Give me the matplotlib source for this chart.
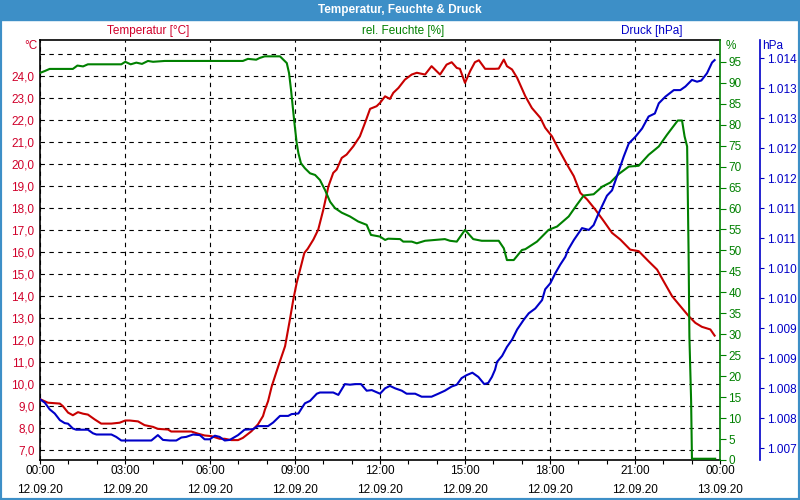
import matplotlib
matplotlib.use("Agg")
import matplotlib.pyplot as plt
from matplotlib.patches import Rectangle
from matplotlib.ticker import MultipleLocator, FixedLocator, FuncFormatter

plt.rcParams["font.family"] = ["Liberation Sans", "DejaVu Sans"]
plt.rcParams["font.size"] = 8

# hours since 00:00 on 12.09.20
temp_h = [0.02, 0.28, 0.70, 0.81, 0.99, 1.16, 1.34, 1.52, 1.69, 1.93, 2.16, 2.52, 2.81,
          3.01, 3.17, 3.46, 3.69, 3.99, 4.16, 4.52, 4.63, 5.34, 5.58, 5.81, 6.05, 6.34,
          6.52, 6.75, 6.99, 7.16, 7.46, 7.69, 7.87, 7.94, 8.05, 8.18, 8.41, 8.65, 8.82,
          8.94, 9.06, 9.18, 9.33, 9.45, 9.65, 9.82, 10.00, 10.18, 10.35, 10.47, 10.65,
          10.82, 11.06, 11.29, 11.47, 11.65, 11.88, 12.00, 12.18, 12.35, 12.47, 12.65,
          12.88, 13.12, 13.30, 13.59, 13.82, 14.12, 14.35, 14.53, 14.71, 14.82, 15.00,
          15.18, 15.35, 15.49, 15.71, 16.06, 16.19, 16.37, 16.48, 16.66, 16.84, 17.13,
          17.36, 17.66, 17.83, 18.07, 18.31, 18.60, 18.84, 19.07, 19.31, 19.60, 19.90,
          20.19, 20.48, 20.83, 21.13, 21.48, 21.78, 22.01, 22.31, 22.60, 22.90, 23.13,
          23.36, 23.66, 23.81]
temp_c = [9.30, 9.15, 9.11, 8.99, 8.70, 8.58, 8.72, 8.65, 8.61, 8.39, 8.20, 8.20, 8.24,
          8.34, 8.34, 8.30, 8.13, 8.05, 7.96, 7.93, 7.84, 7.84, 7.74, 7.66, 7.63, 7.51,
          7.51, 7.45, 7.45, 7.55, 7.85, 8.16, 8.54, 8.84, 9.22, 9.90, 10.81, 11.72, 12.93,
          13.84, 14.60, 15.20, 15.96, 16.15, 16.57, 17.02, 17.93, 18.99, 19.60, 19.75, 20.28,
          20.43, 20.81, 21.26, 21.87, 22.51, 22.63, 22.78, 23.08, 22.96, 23.24, 23.46,
          23.84, 24.07, 24.15, 24.07, 24.45, 24.07, 24.52, 24.63, 24.37, 24.33, 23.69,
          24.22, 24.63, 24.72, 24.33, 24.33, 24.34, 24.75, 24.45, 24.30, 23.92, 23.08,
          22.55, 22.10, 21.65, 21.26, 20.66, 19.98, 19.45, 18.69, 18.39, 17.93, 17.40,
          16.87, 16.57, 16.11, 16.04, 15.58, 15.20, 14.67, 13.99, 13.54, 13.08, 12.78,
          12.60, 12.48, 12.20]

hum_h = [0.02, 0.17, 0.34, 1.16, 1.32, 1.52, 1.69, 2.87, 3.01, 3.20, 3.40, 3.60, 3.81,
         3.99, 4.40, 6.05, 7.16, 7.34, 7.63, 7.75, 7.93, 8.47, 8.59, 8.71, 8.79, 8.86,
         8.92, 8.98, 9.06, 9.12, 9.21, 9.35, 9.53, 9.71, 9.88, 10.06, 10.24, 10.41,
         10.65, 10.94, 11.23, 11.53, 11.68, 12.00, 12.18, 12.29, 12.71, 12.82, 13.12,
         13.30, 13.59, 13.94, 14.29, 14.47, 14.71, 15.00, 15.29, 15.59, 16.06, 16.19,
         16.37, 16.48, 16.72, 17.01, 17.13, 17.54, 17.95, 18.25, 18.66, 18.95, 19.19,
         19.54, 19.84, 20.13, 20.42, 20.78, 21.13, 21.48, 21.84, 22.13, 22.51, 22.66,
         22.75, 22.84, 22.89, 22.92, 22.98, 23.01, 23.83]
hum_pct = [92.4, 92.8, 93.3, 93.3, 94.1, 93.9, 94.4, 94.4, 95.0, 94.4, 94.8, 94.5, 95.2,
           95.0, 95.2, 95.2, 95.2, 95.7, 95.5, 95.9, 96.3, 96.3, 95.5, 94.7, 92.3, 88.3,
           84.3, 80.4, 75.6, 73.2, 70.8, 69.6, 68.4, 68.0, 66.8, 64.4, 61.6, 60.1,
           59.0, 58.1, 56.9, 56.1, 53.7, 53.3, 52.5, 52.8, 52.7, 52.1, 52.1,
           51.7, 52.3, 52.5, 52.7, 52.3, 52.1, 54.9, 52.7, 52.3, 52.3, 52.3,
           50.5, 47.7, 47.7, 50.1, 50.3, 52.1, 54.9, 55.7, 58.1, 60.9, 63.1,
           63.4, 65.2, 66.2, 68.2, 70.0, 70.2, 72.8, 74.8, 77.6, 81.0, 81.0,
           77.2, 74.8, 50.1, 29.4, 14.3, 0.3, 0.3]

pres_h = [0.02, 0.17, 0.34, 0.52, 0.70, 0.87, 0.99, 1.16, 1.28, 1.69, 1.87, 1.99, 2.52,
          2.69, 2.87, 3.93, 4.16, 4.34, 4.58, 4.81, 4.99, 5.16, 5.40, 5.64, 5.81, 5.99,
          6.17, 6.34, 6.52, 6.70, 6.99, 7.22, 7.52, 7.69, 8.05, 8.23, 8.47, 8.76, 8.88,
          9.12, 9.24, 9.35, 9.53, 9.77, 9.88, 10.35, 10.53, 10.76, 10.94, 11.12, 11.33,
          11.53, 11.71, 12.00, 12.18, 12.35, 12.53, 12.77, 12.94, 13.24, 13.47, 13.82,
          14.06, 14.29, 14.53, 14.71, 14.88, 15.06, 15.26, 15.47, 15.68, 15.82, 15.95,
          16.06, 16.13, 16.31, 16.48, 16.66, 16.84, 17.07, 17.25, 17.48, 17.72, 17.83,
          18.01, 18.19, 18.36, 18.54, 18.64, 18.84, 19.13, 19.37, 19.54, 19.72, 20.01,
          20.19, 20.36, 20.60, 20.78, 21.01, 21.25, 21.48, 21.70, 21.84, 22.07, 22.37,
          22.60, 22.78, 23.01, 23.19, 23.34, 23.54, 23.72, 23.81]
pres_hpa = [1008.31, 1008.26, 1008.15, 1008.08, 1007.97, 1007.92, 1007.91, 1007.83,
            1007.81, 1007.81, 1007.75, 1007.73, 1007.73, 1007.69, 1007.63, 1007.63,
            1007.72, 1007.64, 1007.63, 1007.63, 1007.68, 1007.69, 1007.73, 1007.72,
            1007.65, 1007.65, 1007.71, 1007.69, 1007.63, 1007.64, 1007.72, 1007.81,
            1007.82, 1007.87, 1007.87, 1007.93, 1008.04, 1008.04, 1008.07, 1008.08,
            1008.17, 1008.25, 1008.29, 1008.41, 1008.43, 1008.43, 1008.39, 1008.57,
            1008.56, 1008.57, 1008.57, 1008.46, 1008.47, 1008.41, 1008.50, 1008.54,
            1008.50, 1008.46, 1008.41, 1008.41, 1008.36, 1008.36, 1008.41, 1008.46,
            1008.53, 1008.56, 1008.67, 1008.72, 1008.76, 1008.69, 1008.57, 1008.59,
            1008.69, 1008.81, 1008.94, 1009.04, 1009.19, 1009.31, 1009.48, 1009.64,
            1009.75, 1009.83, 1009.97, 1010.15, 1010.25, 1010.42, 1010.56, 1010.69,
            1010.81, 1010.97, 1011.17, 1011.14, 1011.22, 1011.42, 1011.71, 1011.80,
            1012.03, 1012.36, 1012.58, 1012.69, 1012.83, 1013.03, 1013.08, 1013.25,
            1013.36, 1013.47, 1013.47, 1013.53, 1013.64, 1013.61, 1013.63, 1013.75,
            1013.93, 1013.97]

x_ticks = [0, 3, 6, 9, 12, 15, 18, 21, 24]
x_labels = ["00:00\n12.09.20", "03:00\n12.09.20", "06:00\n12.09.20", "09:00\n12.09.20",
            "12:00\n12.09.20", "15:00\n12.09.20", "18:00\n12.09.20", "21:00\n12.09.20",
            "00:00\n13.09.20"]

RED = "#c80000"
RED_TXT = "#d0002a"
GREEN = "#008000"
BLUE = "#0000c8"
BAR = "#3d8fc7"

fig = plt.figure(figsize=(8, 5), dpi=100)
fig.add_artist(Rectangle((0, 0.96), 1, 0.04, transform=fig.transFigure, color=BAR, zorder=0))
fig.add_artist(Rectangle((0, 0), 1, 1, transform=fig.transFigure, fill=False,
                         edgecolor=BAR, linewidth=3, zorder=0))
fig.text(0.5, 0.979, "Temperatur, Feuchte & Druck", color="white", weight="bold",
         ha="center", va="center", fontsize=8.5)

ax = fig.add_axes([0.05, 0.08, 0.85, 0.84])
ax_h = ax.twinx()
ax_p = ax.twinx()

ax.set_xlim(0, 24)
ax.set_ylim(6.545, 25.64)
ax.set_yticks(range(7, 26))
ax.set_yticklabels([f"{v:.1f}".replace(".", ",") for v in range(7, 25)] + [""])
ax.tick_params(axis="y", length=0, pad=4, colors=RED_TXT, labelsize=8.5)
ax.set_xticks(x_ticks)
ax.set_xticklabels(x_labels, linespacing=1.8)
ax.xaxis.set_minor_locator(MultipleLocator(1))
ax.tick_params(axis="x", which="both", length=3, width=0.8, pad=0.5, labelsize=8.5)
ax.grid(True, color="black", linestyle=(0, (4, 4)), linewidth=0.8)
ax.spines["right"].set_visible(False)
for s in ["left", "top", "bottom"]:
    ax.spines[s].set_linewidth(1.2)

ax_h.set_ylim(0, 100.2)
ax_h.set_yticks(range(0, 100, 5))
ax_h.tick_params(axis="y", colors=GREEN, length=4, width=0.8, pad=2, labelsize=8.5)
ax_h.spines["right"].set_color(GREEN)
ax_h.spines["right"].set_linewidth(1.2)
for s in ["left", "top", "bottom"]:
    ax_h.spines[s].set_visible(False)

ax_p.set_ylim(1007.305, 1014.305)
ax_p.yaxis.set_major_locator(FixedLocator([1007.5 + 0.5 * i for i in range(14)]))
ax_p.yaxis.set_major_formatter(FuncFormatter(lambda v, pos: f"{int(v) // 1000}.{int(v) % 1000:03d}"))
ax_p.spines["right"].set_position(("axes", 720 / 680))
ax_p.spines["right"].set_color(BLUE)
ax_p.spines["right"].set_linewidth(1.2)
ax_p.tick_params(axis="y", colors=BLUE, length=3, width=0.8, pad=2, labelsize=8.5)
for s in ["left", "top", "bottom"]:
    ax_p.spines[s].set_visible(False)

ax_h.plot(hum_h, hum_pct, color=GREEN, linewidth=1.5, clip_on=False)
ax.plot(temp_h, temp_c, color=RED, linewidth=1.5, zorder=3)
ax_p.plot(pres_h, pres_hpa, color=BLUE, linewidth=1.5)

fig.text(148 / 800, 1 - 31 / 500, "Temperatur [°C]", color=RED_TXT, ha="center", va="center", fontsize=8.5)
fig.text(403 / 800, 1 - 31 / 500, "rel. Feuchte [%]", color=GREEN, ha="center", va="center", fontsize=8.5)
fig.text(652 / 800, 1 - 31 / 500, "Druck [hPa]", color=BLUE, ha="center", va="center", fontsize=8.5)
fig.text(31 / 800, 1 - 46 / 500, "°C", color=RED_TXT, ha="center", va="center", fontsize=8.5)
fig.text(731 / 800, 1 - 46 / 500, "%", color=GREEN, ha="center", va="center", fontsize=8.5)
fig.text(773 / 800, 1 - 46 / 500, "hPa", color=BLUE, ha="center", va="center", fontsize=8.5)

fig.savefig("out.png", dpi=100)
